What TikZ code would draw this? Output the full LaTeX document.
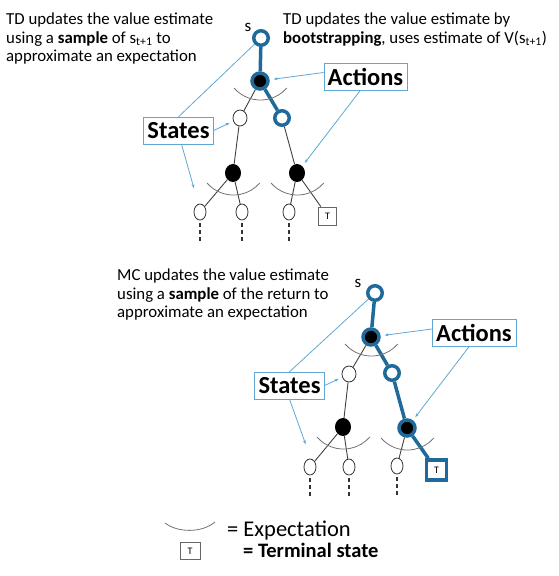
\documentclass[tikz,border=0pt]{standalone}
\usepackage{fontspec}
\setmainfont{Carlito}
\usetikzlibrary{arrows.meta,positioning,shapes.geometric}
\definecolor{pathblue}{HTML}{1F6A9A}
\definecolor{noteblue}{HTML}{5FA8D3}
% arc under an action node = expectation
\newcommand{\expectarc}[2]{\draw[expect] ([shift={(-26,#2)}]#1.center) arc[start angle=139, end angle=41, radius=35];}

\begin{document}
\begin{tikzpicture}[x=1pt, y=-1pt,
    state/.style={ellipse, draw=black!80, thick, fill=white, minimum width=14pt, minimum height=16pt, inner sep=0pt},
    leaf/.style={ellipse, draw=black!80, thick, fill=white, minimum width=12pt, minimum height=16pt, inner sep=0pt},
    act/.style={ellipse, fill=black, minimum width=16pt, minimum height=18pt, inner sep=0pt},
    bstate/.style={circle, draw=pathblue, line width=3.5pt, fill=white, minimum size=14.5pt, inner sep=0pt},
    bact/.style={circle, draw=pathblue, line width=3.5pt, fill=black, minimum size=16pt, inner sep=0pt},
    term/.style={rectangle, draw=black!60, thick, fill=white, minimum size=18pt, inner sep=0pt, font=\fontsize{10}{10}\selectfont},
    bterm/.style={term, draw=pathblue, line width=3.5pt, minimum size=20pt},
    callout/.style={rectangle, draw=noteblue, fill=white, font=\fontsize{24.5}{24.5}\selectfont\bfseries, inner xsep=4pt, minimum height=27pt},
    note/.style={anchor=north west, align=left, font=\fontsize{16.8}{18.5}\selectfont, inner sep=0pt},
    link/.style={draw=pathblue, line width=3.5pt},
    edge/.style={draw=black!75, line width=0.9pt},
    noteline/.style={draw=noteblue, line width=0.8pt},
    pointer/.style={noteline, -{Stealth[length=4pt,width=3pt]}, shorten >=4pt},
    expect/.style={draw=black!55, line width=0.8pt},
    tail/.style={draw=black!80, line width=1.3pt, dash pattern=on 4pt off 3pt}
  ]
  \useasboundingbox (0,0) rectangle (559,576);

  % TD texts
  \node[note] (tdsample) at (6,13) {TD updates the value estimate\\using a \textbf{sample} of s\textsubscript{t+1} to\\approximate an expectation};
  \node[note] (tdboot) at (283,13) {TD updates the value estimate by\\\textbf{bootstrapping}, uses estimate of V(s\textsubscript{t+1})};

  % TD tree
  \node[bstate] (tr) at (261,38) {};
  \node[font=\fontsize{17}{17}\selectfont] (trlabel) at (248,27) {s};
  \node[bact] (ta0) at (260,81) {};
  \node[state] (tls) at (240,118) {};
  \node[bstate] (trs) at (282,118) {};
  \node[act] (tla) at (233,173) {};
  \node[act] (tra) at (297,173) {};
  \node[leaf] (tl1) at (200,212) {};
  \node[leaf] (tl2) at (242,212) {};
  \node[leaf] (tl3) at (289,212) {};
  \node[term] (tT) at (327.5,216) {T};
  \draw[link] (tr) -- (ta0);
  \draw[link] (ta0) -- (trs);
  \draw[edge] (ta0) -- (tls);
  \draw[edge] (tls) -- (tla);
  \draw[edge] (trs) -- (tra);
  \draw[edge] (tla) -- (tl1);
  \draw[edge] (tla) -- (tl2);
  \draw[edge] (tra) -- (tl3);
  \draw[edge] (tra) -- (tT);
  \expectarc{ta0}{7}
  \expectarc{tla}{10}
  \expectarc{tra}{10}
  \draw[tail] (tl1.south) ++(0,3) -- ++(0,18);
  \draw[tail] (tl2.south) ++(0,3) -- ++(0,18);
  \draw[tail] (tl3.south) ++(0,3) -- ++(0,18);

  \node[callout] (tstates) at (178.5,130.5) {States};
  \coordinate (tsl) at (195,192);
  \draw[noteline] (tstates.north) -- (tr);
  \draw[pointer] (tstates.east) -- (tls);
  \draw[pointer] ([xshift=3pt]tstates.south) -- (tsl);
  \node[callout] (tactions) at (365.5,76.5) {Actions};
  \draw[pointer] ([yshift=4pt]tactions.west) -- (ta0);
  \draw[pointer] ([xshift=-5pt]tactions.south) -- (tra);

  % MC text
  \node[note] (mcsample) at (117,269) {MC updates the value estimate\\using a \textbf{sample} of the return to\\approximate an expectation};

  % MC tree
  \node[bstate] (mr) at (375,293) {};
  \node[font=\fontsize{17}{17}\selectfont] (mrlabel) at (358,283) {s};
  \node[bact] (ma0) at (371,337) {};
  \node[state] (mls) at (349,374) {};
  \node[bstate] (mrs) at (392,373) {};
  \node[act] (mla) at (343,427) {};
  \node[bact] (mra) at (407,428) {};
  \node[leaf] (ml1) at (310,467) {};
  \node[leaf] (ml2) at (349,467) {};
  \node[leaf] (ml3) at (397,466) {};
  \node[bterm] (mT) at (436.5,470) {T};
  \draw[link] (mr) -- (ma0);
  \draw[link] (ma0) -- (mrs);
  \draw[link] (mrs) -- (mra);
  \draw[link] (mra) -- (mT);
  \draw[edge] (ma0) -- (mls);
  \draw[edge] (mls) -- (mla);
  \draw[edge] (mla) -- (ml1);
  \draw[edge] (mla) -- (ml2);
  \draw[edge] (mra) -- (ml3);
  \expectarc{ma0}{7}
  \expectarc{mla}{10}
  \expectarc{mra}{10}
  \draw[tail] (ml1.south) ++(0,3) -- ++(0,18);
  \draw[tail] (ml2.south) ++(0,3) -- ++(0,18);
  \draw[tail] (ml3.south) ++(0,3) -- ++(0,18);

  \node[callout] (mstates) at (289.5,385.5) {States};
  \coordinate (msl) at (307,448);
  \draw[noteline] (mstates.north) -- (mr);
  \draw[pointer] (mstates.east) -- (mls);
  \draw[pointer] (mstates.south) -- (msl);
  \node[callout] (mactions) at (474,333) {Actions};
  \draw[pointer] ([yshift=4pt]mactions.west) -- (ma0);
  \draw[pointer] ([xshift=-5pt]mactions.south) -- (mra);

  % legend
  \draw[expect] (165,523) .. controls (178,533) and (202,533) .. (215,522);
  \node[anchor=base west, inner sep=0pt, font=\fontsize{22.5}{22.5}\selectfont] (legexp) at (227,536) {= Expectation};
  \node[term, minimum width=20pt, minimum height=17pt] (legT) at (190,551) {T};
  \node[anchor=base west, inner sep=0pt, font=\fontsize{20.5}{20.5}\selectfont\bfseries] (legterm) at (243,557) {= Terminal state};
\end{tikzpicture}
\end{document}
